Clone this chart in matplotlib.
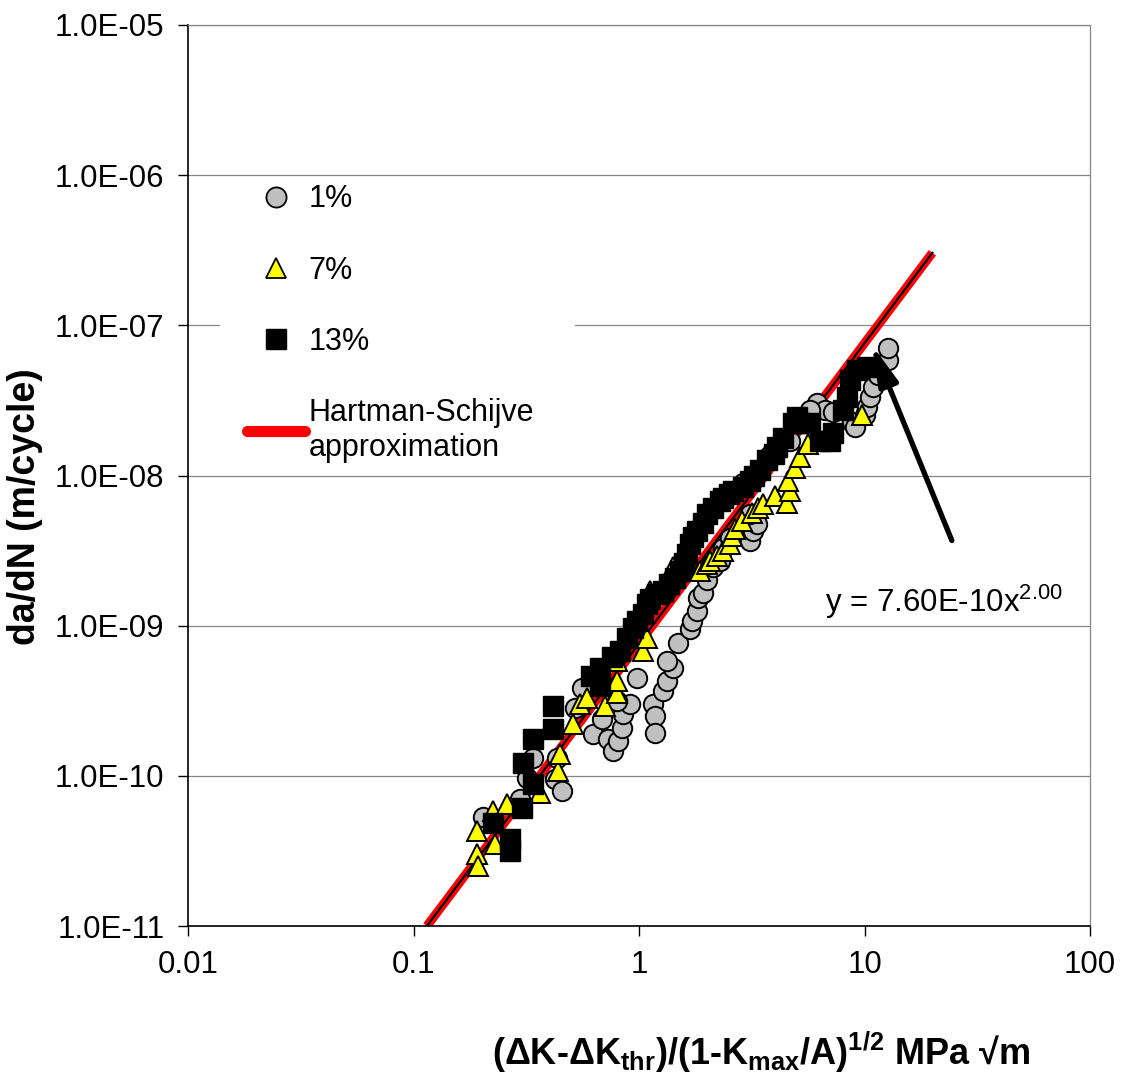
import numpy as np
import matplotlib
matplotlib.use("Agg")
from matplotlib import pyplot as plt
from matplotlib.lines import Line2D
from matplotlib.patches import Rectangle
from matplotlib.ticker import FixedLocator, FuncFormatter, NullLocator

plt.rcParams['font.family'] = ['Liberation Sans', 'DejaVu Sans']
plt.rcParams['mathtext.fontset'] = 'custom'
plt.rcParams['mathtext.rm'] = 'Liberation Sans'
plt.rcParams['mathtext.bf'] = 'Liberation Sans:bold'

# 1% data (x in MPa sqrt(m), y in m/cycle)
x_1 = [0.203, 0.297, 0.319, 0.339, 0.424, 0.456, 0.433, 0.52, 0.559, 0.625,
       0.685, 0.729, 0.767, 0.807, 0.841, 0.849, 0.912, 0.799, 0.98, 1.153,
       1.178, 1.178, 1.277, 1.33, 1.416, 1.33, 1.489, 1.683, 1.718, 1.807,
       1.827, 1.923, 2.0, 2.13, 2.29, 2.36, 2.53, 3.11, 3.2, 3.34,
       3.11, 2.89, 3.81, 4.68, 6.15, 6.68, 7.25, 5.73, 8.81, 9.08,
       10.05, 10.26, 10.57, 10.9, 11.48, 12.71, 12.71]
y_1 = [5.33e-11, 7.03e-11, 9.7e-11, 1.32e-10, 9.55e-11, 7.94e-11, 1.32e-10, 2.84e-10, 3.86e-10, 1.9e-10,
       2.4e-10, 1.77e-10, 1.47e-10, 1.71e-10, 2.09e-10, 2.59e-10, 3.02e-10, 3.16e-10, 4.5e-10, 3.02e-10,
       2.51e-10, 1.94e-10, 3.69e-10, 4.3e-10, 5.25e-10, 5.85e-10, 7.7e-10, 9.55e-10, 1.08e-9, 1.26e-9,
       1.54e-9, 1.66e-9, 2.0e-9, 2.44e-9, 2.71e-9, 3.31e-9, 3.86e-9, 3.69e-9, 4.3e-9, 4.79e-9,
       5.58e-9, 8.98e-9, 1.36e-8, 1.71e-8, 3.02e-8, 2.71e-8, 2.63e-8, 2.71e-8, 2.26e-8, 2.09e-8,
       2.51e-8, 2.84e-8, 3.31e-8, 3.86e-8, 4.64e-8, 5.85e-8, 7.03e-8]

# 7% data
x_7 = [0.191, 0.191, 0.193, 0.23, 0.225, 0.26, 0.364, 0.438, 0.447, 0.51,
       0.547, 0.588, 0.707, 0.799, 0.799, 0.80, 1.04, 1.085, 1.119, 1.416,
       1.865, 2.0, 2.06, 2.22, 2.36, 2.53, 2.58, 2.67, 2.86, 3.17,
       3.37, 3.55, 4.01, 4.53, 4.68, 4.58, 4.92, 5.18, 5.61, 9.75]
y_7 = [4.3e-11, 3.02e-11, 2.51e-11, 3.52e-11, 5.85e-11, 6.5e-11, 7.7e-11, 1.08e-10, 1.4e-10, 2.22e-10,
       3.02e-10, 3.31e-10, 2.93e-10, 3.57e-10, 4.3e-10, 5.85e-10, 6.8e-10, 8.3e-10, 1.71e-9, 2.44e-9,
       2.33e-9, 2.59e-9, 2.71e-9, 2.93e-9, 3.16e-9, 3.52e-9, 3.98e-9, 4.43e-9, 5.01e-9, 5.67e-9,
       6.12e-9, 6.5e-9, 7.35e-9, 6.6e-9, 7.94e-9, 9.26e-9, 1.13e-8, 1.32e-8, 1.63e-8, 2.51e-8]

# 13% data
x_13 = [0.225, 0.268, 0.268, 0.303, 0.339, 0.306, 0.339, 0.416, 0.416, 0.671,
        0.671, 0.824, 0.885, 0.94, 0.98, 1.04, 1.085, 1.2, 1.277, 1.445,
        1.52, 1.633, 1.683, 1.807, 2.0, 2.13, 2.36, 2.29, 2.61, 2.89,
        3.11, 3.44, 3.7, 4.09, 4.35, 4.82, 5.02, 5.18, 5.73, 6.35,
        7.03, 7.25, 8.03, 8.36, 8.63, 9.27, 10.26, 1.12, 1.36, 1.58,
        1.74, 1.92, 2.5, 3.25, 3.95, 0.76, 0.61]
y_13 = [4.86e-11, 3.8e-11, 3.16e-11, 6.12e-11, 8.85e-11, 1.22e-10, 1.77e-10, 2.06e-10, 2.93e-10, 3.98e-10,
        5.25e-10, 6.8e-10, 8.3e-10, 9.7e-10, 1.08e-9, 1.2e-9, 1.4e-9, 1.63e-9, 1.71e-9, 2.09e-9,
        2.33e-9, 3.02e-9, 3.52e-9, 4.3e-9, 5.58e-9, 6.12e-9, 7.13e-9, 6.8e-9, 7.94e-9, 8.32e-9,
        9.26e-9, 1.08e-8, 1.26e-8, 1.54e-8, 1.79e-8, 2.22e-8, 2.44e-8, 2.22e-8, 2.22e-8, 1.71e-8,
        1.71e-8, 1.91e-8, 2.71e-8, 3.31e-8, 4.3e-8, 5.01e-8, 5.25e-8, 1.5e-9, 1.9e-9, 2.6e-9,
        3.9e-9, 4.8e-9, 7.5e-9, 1.0e-8, 1.4e-8, 6.2e-10, 4.6e-10]

# Hartman-Schijve approximation y = 7.60E-10 x^2.00 (end points)
hs_x = [0.1147, 20.0]
hs_y = [1.0e-11, 3.04e-7]
# power trend line through the data
trend_x = [0.1147, 20.0]
trend_y = [1.0e-11, 3.04e-7]

y_ticks = [1e-11, 1e-10, 1e-9, 1e-8, 1e-7, 1e-6, 1e-5]
x_ticks = [0.01, 0.1, 1, 10, 100]
x_tick_labels = ['0.01', '0.1', '1', '10', '100']

fig = plt.figure(figsize=(11.25, 10.75), dpi=100)
ax = fig.add_axes([188/1125, 1 - 926/1075, 902/1125, 901/1075])
ax.set_xscale('log')
ax.set_yscale('log')
ax.set_xlim(0.01, 100)
ax.set_ylim(1e-11, 1e-5)

# horizontal grid lines only
for yv in y_ticks:
    ax.axhline(yv, color='#868686', lw=0.9, zorder=0)

ax.plot(hs_x, hs_y, color='#FF0000', lw=6.5, solid_capstyle='butt', zorder=2)
ax.plot(trend_x, trend_y, color='black', lw=1.6, zorder=2.1)

ax.plot(x_1, y_1, 'o', ms=14, mfc='#C0C0C0', mec='black', mew=1.4, zorder=3)
ax.plot(x_7, y_7, '^', ms=15, mfc='#FFFF00', mec='black', mew=1.4, zorder=4)
ax.plot(x_13, y_13, 's', ms=14.5, mfc='black', mec='black', mew=1.0, zorder=5)

ax.annotate('', xy=(10.8, 7.4e-8), xytext=(24.4, 3.69e-9),
            arrowprops=dict(arrowstyle='-|>,head_length=2.4,head_width=0.6',
                            color='black', lw=3.8, shrinkA=0, shrinkB=0),
            zorder=6)
ax.text(0.706, 0.348, 'y = 7.60E-10x$^{2.00}$', transform=ax.transAxes,
        fontsize=22.5, va='baseline', ha='left')

# legend background covering grid lines
ax.add_patch(Rectangle((0.0355, 0.506), 0.393, 0.324, transform=ax.transAxes,
                       facecolor='white', edgecolor='none', zorder=1))
handles = [
    Line2D([], [], ls='none', marker='o', ms=14.5, mfc='#C0C0C0', mec='black', mew=1.3),
    Line2D([], [], ls='none', marker='^', ms=14.5, mfc='#FFFF00', mec='black', mew=1.3),
    Line2D([], [], ls='none', marker='s', ms=15, mfc='black', mec='black'),
    Line2D([], [], color='#FF0000', lw=8, solid_capstyle='round'),
]
labels = ['1%', '7%', '13%', 'Hartman-Schijve\napproximation']
ax.legend(handles, labels, loc='upper left', bbox_to_anchor=(0.0654, 0.823),
          frameon=False, fontsize=22, borderpad=0, borderaxespad=0,
          handlelength=1.9, handletextpad=0.12, labelspacing=1.35)

ax.yaxis.set_major_locator(FixedLocator(y_ticks))
ax.yaxis.set_major_formatter(FuncFormatter(lambda v, p: '%.1fE%03d' % (v / 10**np.floor(np.log10(v) + 1e-9), np.floor(np.log10(v) + 1e-9))))
ax.yaxis.set_minor_locator(NullLocator())
ax.xaxis.set_major_locator(FixedLocator(x_ticks))
ax.set_xticklabels(x_tick_labels)
ax.xaxis.set_minor_locator(NullLocator())
ax.tick_params(axis='both', which='major', direction='out', length=7, width=1.0,
               labelsize=22.5, pad=10)

for s in ['top', 'right']:
    ax.spines[s].set_color('#868686')
    ax.spines[s].set_linewidth(0.9)
for s in ['left', 'bottom']:
    ax.spines[s].set_linewidth(1.2)

fig.text(25/1125, 1 - 507/1075, 'da/dN (m/cycle)', rotation=90, fontsize=27,
         fontweight='bold', ha='center', va='center')
fig.text(761/1125, 1 - 1052/1075,
         '(ΔK-ΔK$_{\\mathbf{thr}}$)/(1-K$_{\\mathbf{max}}$/A)$^{\\mathbf{1/2}}$ MPa √m',
         fontsize=26, fontweight='bold', ha='center', va='center')

fig.savefig('out.png', dpi=100)
